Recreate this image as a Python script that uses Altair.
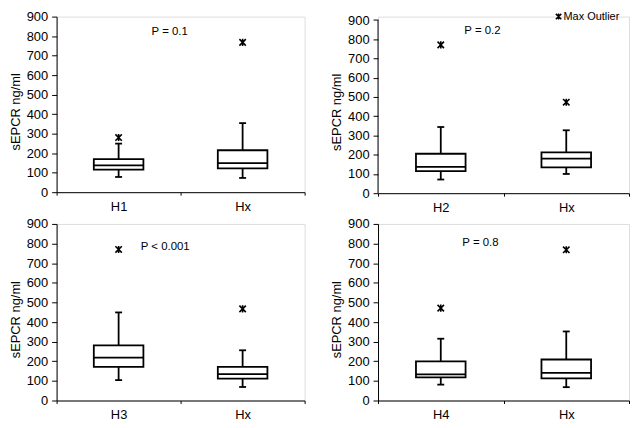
import altair as alt
import pandas as pd

# ---------------- data ----------------
groups = [["H1", "Hx"], ["H2", "Hx"], ["H3", "Hx"], ["H4", "Hx"]]
whisker_low = [[78, 73], [71, 100], [104, 69], [81, 68]]
q1 = [[116, 122], [115, 134], [172, 112], [118, 113]]
median = [[137, 149], [137, 180], [219, 134], [133, 141]]
q3 = [[169, 215], [205, 212], [281, 172], [199, 209]]
whisker_high = [[249, 354], [344, 327], [449, 256], [315, 352]]
max_outlier = [[280, 768], [771, 473], [770, 467], [471, 768]]
p_text = ["P = 0.1", "P = 0.2", "P < 0.001", "P = 0.8"]
p_value_y = [821, 841, 783, 801]
y_ticks = [0, 100, 200, 300, 400, 500, 600, 700, 800, 900]
y_title = "sEPCR ng/ml"
legend_label = "Max Outlier"

# ---------------- style ----------------
FONT = "Liberation Sans"
STAR = "M-1,-1L1,1M-1,1L1,-1M0,-1.1L0,1.1"
LW = 1.8


def panel(i, w, h, p_dx, ymax=900, legend=False):
    df = pd.DataFrame({
        "group": groups[i],
        "lo": whisker_low[i],
        "q1": q1[i],
        "med": median[i],
        "q3": q3[i],
        "hi": whisker_high[i],
        "out": max_outlier[i],
    })
    xenc = alt.X(
        "group:N",
        sort=groups[i],
        scale=alt.Scale(domain=groups[i], paddingInner=0, paddingOuter=0),
        axis=alt.Axis(
            title=None, labelAngle=0, tickBand="extent", tickSize=3,
            labelPadding=5, domainColor="black", tickColor="black",
            labelColor="black", labelFont=FONT, labelFontSize=13,
            domainWidth=1, tickWidth=1,
        ),
    )
    yscale = alt.Scale(domain=[0, ymax], nice=False, zero=True)
    yaxis = alt.Axis(
        values=y_ticks, title=y_title, grid=False, tickSize=5,
        labelPadding=4, titlePadding=4, titleFontWeight="normal",
        titleFont=FONT, titleFontSize=13, labelFont=FONT, labelFontSize=13,
        titleY=h / 2 + 7, domain=(ymax == 900), domainColor="black",
        tickColor="black", labelColor="black", titleColor="black",
    )

    def Y(f):
        return alt.Y(f, scale=yscale, axis=yaxis)

    base = alt.Chart(df).encode(x=xenc)
    whisk = base.mark_rule(color="black", strokeWidth=LW, opacity=1).encode(y=Y("lo:Q"), y2="hi:Q")
    cap_lo = base.mark_tick(color="black", size=7, thickness=LW, opacity=1).encode(y=Y("lo:Q"))
    cap_hi = base.mark_tick(color="black", size=7, thickness=LW, opacity=1).encode(y=Y("hi:Q"))
    box = base.mark_bar(size=50, fill="white", stroke="black", strokeWidth=LW, opacity=1).encode(
        y=Y("q1:Q"), y2="q3:Q")
    med = base.mark_tick(color="black", size=50, thickness=LW, opacity=1).encode(y=Y("med:Q"))
    out = base.mark_point(shape=STAR, size=42, filled=False, color="black",
                          strokeWidth=1.6, opacity=1).encode(y=Y("out:Q"))
    pdf = pd.DataFrame({"group": [groups[i][0]], "t": [p_text[i]], "py": [p_value_y[i]]})
    ptxt = alt.Chart(pdf).mark_text(font=FONT, fontSize=11.5, dx=p_dx, color="black").encode(
        x=xenc, y=Y("py:Q"), text="t:N")
    layers = [whisk, cap_lo, cap_hi, box, med, out, ptxt]

    if ymax != 900:
        axis_line = alt.Chart(pd.DataFrame({"a": [0]})).mark_rule(color="black", strokeWidth=1).encode(
            x=alt.value(0), y=alt.datum(0, scale=yscale, axis=yaxis), y2=alt.datum(900))
        layers.append(axis_line)

    if legend:
        ldf = pd.DataFrame({"t": [legend_label]})
        lmark = alt.Chart(ldf).mark_point(shape=STAR, size=30, filled=False, color="black",
                                          strokeWidth=1.5, opacity=1).encode(
            x=alt.value(w - 71), y=alt.value(0))
        ltext = alt.Chart(ldf).mark_text(font=FONT, fontSize=11, align="left", color="black").encode(
            x=alt.value(w - 66), y=alt.value(0), text="t:N")
        layers += [lmark, ltext]

    return alt.layer(*layers).properties(width=w, height=h)


p1 = panel(0, 250, 177, 51.5)
p2 = panel(1, 253, 178, 42, ymax=918, legend=True)
p3 = panel(2, 250, 178, 47)
p4 = panel(3, 253, 178, 40)

chart = alt.concat(
    p1, p2, p3, p4, columns=2, spacing={"row": 31, "column": 74}, bounds="flush"
).resolve_scale(x="independent", y="independent").properties(
    padding=0
).configure_view(stroke=None).configure(background="white")

chart.save("out.html", embed_options={"renderer": "svg", "actions": False})
